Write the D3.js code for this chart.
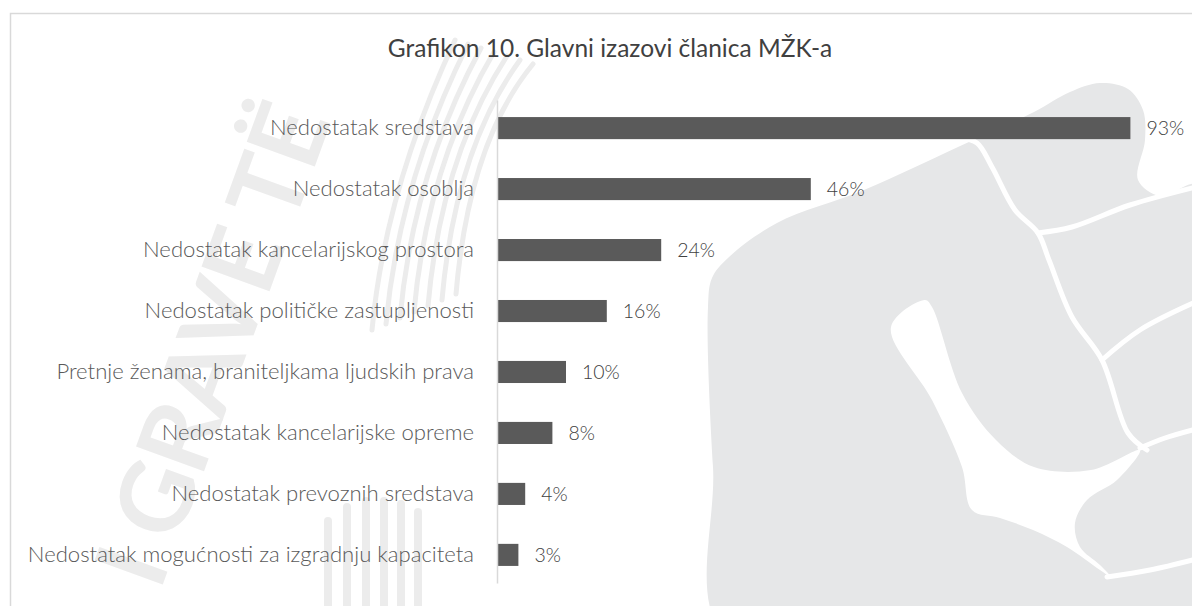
<!DOCTYPE html>
<html>
<head>
<meta charset="utf-8">
<script src="https://cdn.jsdelivr.net/npm/d3@7"></script>
<style>
  html, body { margin: 0; padding: 0; background: #fff; }
  text { font-family: Lato, "Open Sans", sans-serif; }
</style>
</head>
<body>
<main></main>
<script>
const w = 1192;
const h = 606;

const title = "Grafikon 10. Glavni izazovi članica MŽK-a";
const categories = [
  "Nedostatak sredstava",
  "Nedostatak osoblja",
  "Nedostatak kancelarijskog prostora",
  "Nedostatak političke zastupljenosti",
  "Pretnje ženama, braniteljkama ljudskih prava",
  "Nedostatak kancelarijske opreme",
  "Nedostatak prevoznih sredstava",
  "Nedostatak mogućnosti za izgradnju kapaciteta",
];
const values = [93, 46, 24, 16, 10, 8, 4, 3];

const svg = d3
  .select("main")
  .append("svg")
  .attr("width", w)
  .attr("height", h)
  .style("display", "block");

// --- watermark (faint fist + lettering behind the chart)
const wm = svg.append("g").attr("id", "watermark");
const wmGray = "#e6e7e8";
const smooth = d3.line().curve(d3.curveCatmullRom.alpha(0.5));
const smoothClosed = d3.line().curve(d3.curveCatmullRomClosed.alpha(0.5));

wm.append("text")
  .text("I GRAVE TË")
  .attr("transform", "translate(160, 592) rotate(-70)")
  .attr("font-size", 100)
  .attr("font-weight", 700)
  .attr("letter-spacing", -2)
  .attr("fill", "#ececec");

// curved stripes top-left
d3.range(7).forEach((i) => {
  wm.append("path")
    .attr("d", `M${372 + i * 14},${330 - i * 6} Q${385 + i * 14},${190 - i * 8} ${455 + i * 13},${40 + i * 4}`)
    .attr("fill", "none")
    .attr("stroke", "#ececec")
    .attr("stroke-width", 5)
    .attr("stroke-linecap", "round");
});

// vertical stripes bottom
const stripeX = [328, 347, 366, 384, 401, 418];
const stripeTop = [517, 503, 497, 497, 500, 508];
stripeX.forEach((sx, i) => {
  wm.append("rect")
    .attr("x", sx - 4)
    .attr("y", stripeTop[i])
    .attr("width", 8)
    .attr("height", h - stripeTop[i] + 10)
    .attr("rx", 4)
    .attr("fill", "#ececec");
});

const fist = [
  [728, 640], [713, 467], [708, 307], [712, 278], [728, 258], [777, 223],
  [864, 190], [958, 147], [1034, 112], [1070, 92], [1100, 83], [1128, 89],
  [1143, 110], [1145, 140], [1138, 180], [1160, 196], [1200, 185],
  [1230, 400], [1210, 640],
];
wm.append("path").attr("d", smoothClosed(fist)).attr("fill", wmGray);

const gaps = [
  [[960, 138], [977, 143], [992, 167], [1015, 210], [1038, 233], [1049, 260],
   [1072, 317], [1102, 360], [1128, 433], [1147, 450]],
  [[1102, 360], [1140, 330], [1200, 300]],
  [[1140, 448], [1165, 438], [1200, 428]],
  [[1038, 233], [1072, 227], [1130, 205], [1200, 186]],
  [[1107, 577], [1150, 570], [1200, 558]],
];
gaps.forEach((g) => {
  wm.append("path")
    .attr("d", smooth(g))
    .attr("fill", "none")
    .attr("stroke", "#fff")
    .attr("stroke-width", 5)
    .attr("stroke-linecap", "round");
});

const wedge = [
  [925, 300], [891, 327], [932, 400], [962, 467], [972, 510], [1000, 518],
  [1033, 530], [1067, 547], [1100, 570], [1112, 578], [1100, 565],
  [1080, 547], [1075, 523], [1087, 500], [1117, 480], [1140, 450],
  [1091, 470], [1034, 467], [996, 440], [962, 393], [932, 307],
];
wm.append("path").attr("d", smoothClosed(wedge)).attr("fill", "#fff");

// --- frame
svg.append("rect")
  .attr("x", 10.5)
  .attr("y", 13.5)
  .attr("width", 1220)
  .attr("height", 640)
  .attr("fill", "none")
  .attr("stroke", "#d9d9d9")
  .attr("stroke-width", 1.5);

// --- title
svg.append("text")
  .attr("x", 610)
  .attr("y", 57)
  .attr("text-anchor", "middle")
  .attr("font-size", 24.5)
  .attr("fill", "#404040")
  .text(title);

// --- scales
const x = d3.scaleLinear().domain([0, 100]).range([498, 1178]);
const y = d3
  .scaleBand()
  .domain(categories)
  .range([100, 583])
  .paddingInner(0.638)
  .paddingOuter(0.28);

// --- bars
svg.append("g")
  .selectAll("rect")
  .data(values)
  .join("rect")
  .attr("x", x(0))
  .attr("y", (d, i) => y(categories[i]))
  .attr("width", (d) => x(d) - x(0))
  .attr("height", y.bandwidth())
  .attr("fill", "#5a5a5a");

svg.append("g")
  .selectAll("text")
  .data(values)
  .join("text")
  .attr("x", (d) => x(d) + 16)
  .attr("y", (d, i) => y(categories[i]) + y.bandwidth() / 2)
  .attr("dy", "0.35em")
  .attr("font-size", 19.5)
  .attr("font-weight", 300)
  .attr("fill", "#404040")
  .text((d) => `${d}%`);

// --- category axis
const axis = svg
  .append("g")
  .attr("transform", `translate(${x(0) - 1}, 0)`)
  .call(d3.axisLeft(y).tickSize(0).tickSizeOuter(0).tickPadding(23));

axis.select(".domain").attr("stroke", "#d9d9d9").attr("stroke-width", 1.5);
axis.selectAll(".tick text")
  .attr("font-family", "Lato, 'Open Sans', sans-serif")
  .attr("font-size", 22.1)
  .attr("font-weight", 300)
  .attr("fill", "#595959");
</script>
</body>
</html>
